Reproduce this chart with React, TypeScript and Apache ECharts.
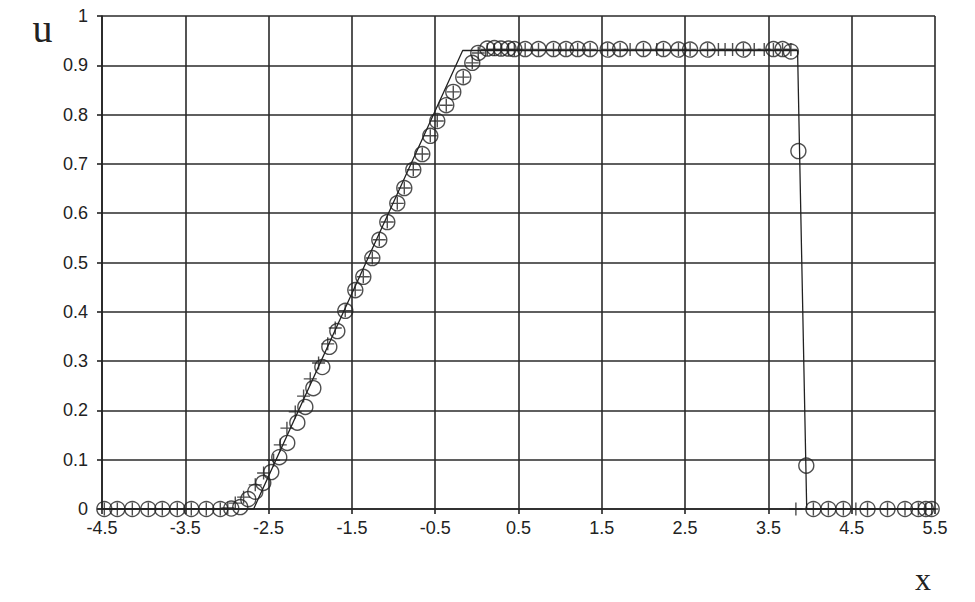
import React, { useEffect, useRef } from "react";
import * as echarts from "echarts";

// exact solution (piecewise linear)
const exactX = [-4.5, -2.68, -0.17, 3.85, 3.96, 5.5];
const exactU = [0, 0, 0.93, 0.93, 0, 0];

// scheme 1 (circles)
const circleX = [
  -4.472, -4.316, -4.136, -3.944, -3.776, -3.596, -3.428, -3.248, -3.08, -2.948, -2.84,
  -2.744, -2.66, -2.564, -2.468, -2.372, -2.276, -2.155, -2.059, -1.963, -1.855, -1.771,
  -1.675, -1.579, -1.459, -1.363, -1.255, -1.171, -1.075, -0.955, -0.871, -0.763, -0.655,
  -0.559, -0.475, -0.367, -0.283, -0.163, -0.055, 0.017,
  0.125, 0.21, 0.29, 0.38, 0.45, 0.58, 0.74, 0.92, 1.07, 1.21, 1.36, 1.57, 1.72, 2.0, 2.24,
  2.42, 2.56, 2.77, 3.2, 3.56, 3.67, 3.77,
  3.86, 3.955,
  4.04, 4.22, 4.4, 4.69, 4.93, 5.14, 5.3, 5.39, 5.46,
];
const circleU = [
  0, 0, 0, 0, 0, 0, 0, 0, 0, 0.001, 0.004,
  0.02, 0.035, 0.053, 0.075, 0.105, 0.134, 0.175, 0.207, 0.245, 0.288, 0.329,
  0.361, 0.402, 0.444, 0.471, 0.509, 0.546, 0.582, 0.62, 0.651, 0.688, 0.72,
  0.757, 0.787, 0.819, 0.846, 0.876, 0.905, 0.925,
  0.934, 0.935, 0.934, 0.934, 0.933, 0.933, 0.933, 0.933, 0.933, 0.933, 0.933, 0.932, 0.933, 0.933, 0.933,
  0.932, 0.932, 0.932, 0.932, 0.933, 0.933, 0.928,
  0.726, 0.088,
  0, 0, 0, 0, 0, 0, 0, 0, 0,
];

// scheme 2 (pluses)
const plusX = [
  -4.472, -4.316, -4.136, -3.944, -3.776, -3.596, -3.428, -3.248, -3.08,
  -2.99, -2.9, -2.8, -2.66, -2.56, -2.44, -2.36, -2.28, -2.18, -2.08, -2.0, -1.9, -1.79,
  -1.7, -1.58, -1.46, -1.363, -1.255, -1.171, -1.075, -0.955, -0.871, -0.763, -0.655,
  -0.559, -0.475, -0.367, -0.283, -0.163, -0.055, 0.017,
  0.125, 0.21, 0.29, 0.38, 0.45, 0.58, 0.74, 0.92, 1.07, 1.21, 1.36, 1.57, 1.72, 1.84, 2.0,
  2.16, 2.24, 2.42, 2.56, 2.77, 2.9, 2.98, 3.07, 3.2, 3.33, 3.45, 3.56, 3.67, 3.77,
  3.83, 4.04, 4.22, 4.4, 4.55, 4.69, 4.93, 5.14, 5.3, 5.39, 5.46,
];
const plusU = [
  0, 0, 0, 0, 0, 0, 0, 0, 0,
  0.002, 0.012, 0.024, 0.049, 0.073, 0.099, 0.13, 0.164, 0.197, 0.229, 0.264, 0.296, 0.335,
  0.367, 0.402, 0.444, 0.471, 0.509, 0.546, 0.582, 0.62, 0.651, 0.688, 0.72,
  0.757, 0.787, 0.819, 0.846, 0.876, 0.905, 0.925,
  0.932, 0.932, 0.932, 0.932, 0.932, 0.932, 0.932, 0.932, 0.932, 0.932, 0.932, 0.932, 0.932, 0.932, 0.932,
  0.932, 0.932, 0.932, 0.932, 0.932, 0.932, 0.932, 0.932, 0.932, 0.932, 0.932, 0.932, 0.932, 0.932,
  0, 0, 0, 0, 0, 0, 0, 0, 0, 0, 0,
];

const zip = (xs: number[], ys: number[]) => xs.map((x, i) => [x, ys[i]]);

export default function App() {
  const ref = useRef<HTMLDivElement>(null);
  useEffect(() => {
    if (!ref.current) return;
    const chart = echarts.init(ref.current, null, { renderer: "svg" });
    const ink = "#222";
    const labelFont = { fontFamily: "Liberation Sans, Arial, sans-serif", fontSize: 18, color: "#222" };
    chart.setOption({
      animation: false,
      backgroundColor: "#fff",
      grid: { left: 102, right: 40, top: 16, bottom: 93, containLabel: false },
      xAxis: {
        type: "value",
        min: -4.5,
        max: 5.5,
        interval: 1,
        axisLine: { show: true, onZero: false, lineStyle: { color: ink, width: 1.6 } },
        axisTick: { show: true, length: 5, inside: false, lineStyle: { color: ink, width: 1.6 } },
        axisLabel: { ...labelFont, margin: 10, formatter: (v: number) => v.toFixed(1) },
        splitLine: { show: true, lineStyle: { color: "#2a2a2a", width: 1.6 } },
      },
      yAxis: {
        type: "value",
        min: 0,
        max: 1,
        interval: 0.1,
        axisLine: { show: true, onZero: false, lineStyle: { color: ink, width: 1.6 } },
        axisTick: { show: true, length: 5, inside: false, lineStyle: { color: ink, width: 1.6 } },
        axisLabel: {
          ...labelFont,
          margin: 14,
          formatter: (v: number) => (Math.abs(v) < 1e-9 ? "0" : Math.abs(v - 1) < 1e-9 ? "1" : v.toFixed(1)),
        },
        splitLine: { show: true, lineStyle: { color: "#2a2a2a", width: 1.6 } },
      },
      graphic: [
        {
          type: "text",
          x: 42.5,
          y: 28,
          style: {
            text: "u",
            font: "40px 'Liberation Serif', 'DejaVu Serif', serif",
            lineHeight: 40,
            fill: "#222",
            align: "center",
            verticalAlign: "middle",
          },
        },
        {
          type: "text",
          x: 923,
          y: 579,
          style: {
            text: "x",
            font: "32px 'Liberation Serif', 'DejaVu Serif', serif",
            lineHeight: 32,
            fill: "#222",
            align: "center",
            verticalAlign: "middle",
          },
        },
      ],
      series: [
        {
          type: "line",
          data: zip(exactX, exactU),
          showSymbol: false,
          symbol: "none",
          lineStyle: { color: ink, width: 1.3 },
          z: 3,
        },
        {
          type: "scatter",
          data: zip(circleX, circleU),
          symbol: "circle",
          symbolSize: 15,
          itemStyle: { color: "rgba(0,0,0,0)", borderColor: ink, borderWidth: 1.4 },
          z: 4,
        },
        {
          type: "scatter",
          data: zip(plusX, plusU),
          symbol: "path://M5,0V10M0,5H10",
          symbolSize: 13,
          itemStyle: { color: "rgba(0,0,0,0)", borderColor: ink, borderWidth: 1.4 },
          z: 5,
        },
      ],
    });
    return () => chart.dispose();
  }, []);
  return <div ref={ref} style={{ width: 975, height: 602, marginLeft: -8, marginTop: -8 }} />;
}
